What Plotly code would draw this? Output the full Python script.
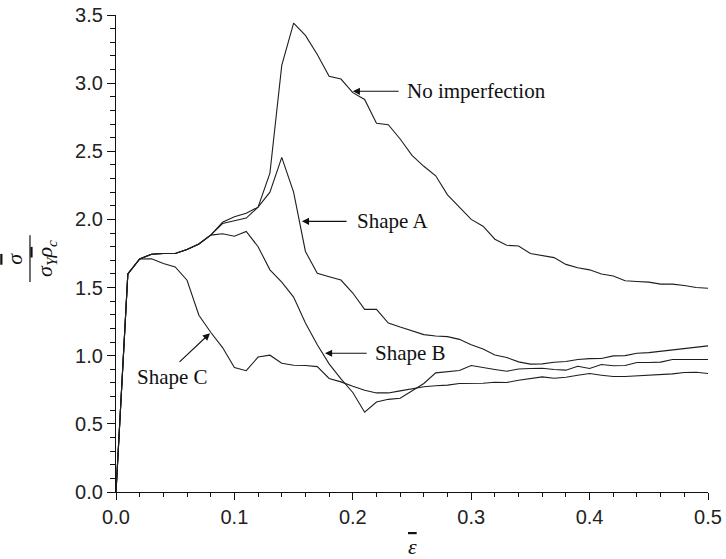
import plotly.graph_objects as go

# strain values
eps = [round(i * 0.01, 2) for i in range(51)]

no_imperfection = [0, 1.60, 1.71, 1.745, 1.75, 1.75, 1.78, 1.82, 1.885, 1.98,
                   2.02, 2.045, 2.09, 2.34, 3.13, 3.44, 3.35, 3.21, 3.05, 3.03,
                   2.93, 2.88, 2.705, 2.695, 2.59, 2.47, 2.39, 2.32, 2.18, 2.09,
                   2.00, 1.95, 1.855, 1.81, 1.805, 1.75, 1.735, 1.72, 1.67, 1.645,
                   1.63, 1.60, 1.585, 1.55, 1.545, 1.54, 1.525, 1.525, 1.515, 1.50,
                   1.495]

shape_a = [0, 1.60, 1.71, 1.745, 1.75, 1.75, 1.78, 1.82, 1.885, 1.97,
           1.99, 2.01, 2.09, 2.20, 2.455, 2.20, 1.765, 1.605, 1.58, 1.555,
           1.46, 1.34, 1.34, 1.24, 1.21, 1.18, 1.155, 1.145, 1.14, 1.12,
           1.08, 1.05, 1.005, 0.987, 0.955, 0.938, 0.94, 0.952, 0.957, 0.972,
           0.979, 0.98, 0.999, 1.001, 1.018, 1.023, 1.033, 1.043, 1.048, 1.06,
           1.072]

shape_b = [0, 1.60, 1.71, 1.745, 1.75, 1.75, 1.78, 1.82, 1.885, 1.895,
           1.877, 1.912, 1.80, 1.63, 1.54, 1.43, 1.24, 1.08, 0.94, 0.83,
           0.73, 0.585, 0.66, 0.68, 0.688, 0.74, 0.796, 0.874, 0.884, 0.891,
           0.928, 0.911, 0.899, 0.886, 0.903, 0.906, 0.908, 0.899, 0.894, 0.923,
           0.906, 0.935, 0.926, 0.928, 0.95, 0.95, 0.953, 0.972, 0.972, 0.972,
           0.972]

shape_c = [0, 1.60, 1.71, 1.712, 1.677, 1.652, 1.554, 1.297, 1.172, 1.06,
           0.913, 0.89, 0.99, 1.004, 0.945, 0.93, 0.928, 0.92, 0.833, 0.808,
           0.776, 0.747, 0.727, 0.727, 0.742, 0.759, 0.772, 0.78, 0.784, 0.796,
           0.796, 0.798, 0.805, 0.803, 0.82, 0.832, 0.845, 0.835, 0.842, 0.857,
           0.869, 0.857, 0.847, 0.847, 0.852, 0.859, 0.859, 0.867, 0.877, 0.879,
           0.869]

series = [("No imperfection", no_imperfection), ("Shape A", shape_a),
          ("Shape B", shape_b), ("Shape C", shape_c)]

# label annotations: (text, arrow tip x, tip y, tail x, tail y, text x, text y, anchor)
labels = [
    ("No imperfection", 0.200, 2.94, 0.240, 2.94, 0.244, 2.94, "left"),
    ("Shape A", 0.157, 1.986, 0.196, 1.986, 0.202, 1.986, "left"),
    ("Shape B", 0.1765, 1.018, 0.213, 1.018, 0.217, 1.018, "left"),
    ("Shape C", 0.0794, 1.165, 0.0524, 0.945, 0.0477, 0.842, "center"),
]

line_color = "#1e1e1e"
fig = go.Figure()
for name, vals in series:
    fig.add_trace(go.Scatter(x=eps, y=vals, mode="lines", name=name,
                             line=dict(color=line_color, width=1.1),
                             showlegend=False))

serif = "Liberation Serif"
sans = "Liberation Sans"

annotations = []
for text, tx, ty, ax, ay, lx, ly, anchor in labels:
    annotations.append(dict(x=tx, y=ty, xref="x", yref="y", ax=ax, ay=ay,
                            axref="x", ayref="y", text="", showarrow=True,
                            arrowhead=2, arrowsize=1.3, arrowwidth=1.1,
                            arrowcolor="#111"))
    annotations.append(dict(x=lx, y=ly, xref="x", yref="y", text=text,
                            showarrow=False, xanchor=anchor, yanchor="middle",
                            font=dict(family=serif, size=21, color="#111")))

ovl = '<span style="text-decoration:overline">{}</span>'
# y-axis title as stacked fraction
annotations.append(dict(x=-0.1706, y=0.489, xref="paper", yref="paper",
                        text="<i>" + ovl.format("σ") + "</i>", showarrow=False,
                        textangle=-90, xanchor="center", yanchor="middle",
                        font=dict(family=serif, size=22, color="#111")))
annotations.append(dict(x=-0.118, y=0.489, xref="paper", yref="paper",
                        text="<i>σ<sub>Y</sub>" + ovl.format("ρ") + "<sub>c</sub></i>",
                        showarrow=False, textangle=-90,
                        xanchor="center", yanchor="middle",
                        font=dict(family=serif, size=22, color="#111")))
# x-axis title
annotations.append(dict(x=0.5, y=-0.115, xref="paper", yref="paper",
                        text="<i>" + ovl.format("ε") + "</i>", showarrow=False,
                        xanchor="center", yanchor="middle",
                        font=dict(family=serif, size=22, color="#111")))

fig.update_layout(
    width=726, height=559,
    margin=dict(l=116, r=18, t=15, b=67, autoexpand=False),
    paper_bgcolor="white", plot_bgcolor="white",
    annotations=annotations,
    shapes=[dict(type="line", xref="paper", yref="paper",
                 x0=-0.1453, x1=-0.1453, y0=0.44, y1=0.5385,
                 line=dict(color="#111", width=1.2))],
    xaxis=dict(range=[0, 0.5], dtick=0.1, tick0=0, tickformat=".1f",
               automargin=False,
               showgrid=False, zeroline=False, showline=True,
               linecolor="#111", linewidth=1.2, ticks="outside",
               ticklen=7, tickwidth=1.2, tickcolor="#111",
               tickfont=dict(family=sans, size=20, color="#222"),
               minor=dict(ticks="outside", dtick=0.02, ticklen=4,
                          tickwidth=1, tickcolor="#111", showgrid=False)),
    yaxis=dict(range=[0, 3.5], dtick=0.5, tick0=0, tickformat=".1f",
               automargin=False,
               showgrid=False, zeroline=False, showline=True,
               linecolor="#111", linewidth=1.2, ticks="outside",
               ticklen=8, tickwidth=1.2, tickcolor="#111",
               tickfont=dict(family=sans, size=20, color="#222"),
               minor=dict(ticks="outside", dtick=0.1, ticklen=5,
                          tickwidth=1, tickcolor="#111", showgrid=False)),
)

fig.write_html("out.html")
